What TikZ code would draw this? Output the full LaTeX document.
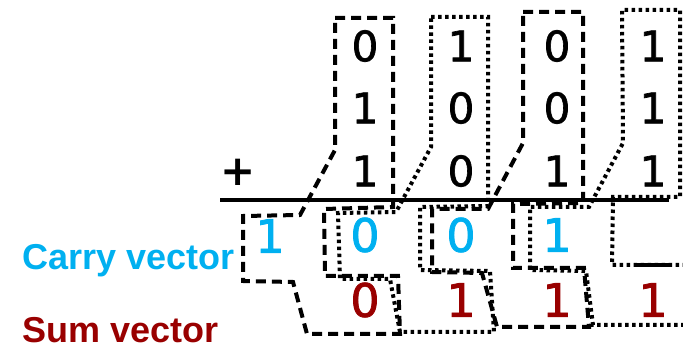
\documentclass[tikz,border=0pt]{standalone}
\usepackage{fontspec}
\setmainfont{Liberation Sans}
\newfontfamily\digitfont{DejaVu Sans}[FakeBold=1.6]
\newfontfamily\plusfont{DejaVu Sans Bold}
\usetikzlibrary{calc}
\definecolor{carryblue}{HTML}{00B0F0}
\definecolor{sumred}{HTML}{990000}
\begin{document}
\begin{tikzpicture}[x=1pt,y=-1pt,
  bit/.style={inner sep=0pt,font=\digitfont\fontsize{42}{42}\selectfont},
  cbit/.style={inner sep=0pt,text=carryblue,font=\digitfont\fontsize{46}{46}\selectfont},
  sbit/.style={inner sep=0pt,text=sumred,font=\digitfont\fontsize{46}{46}\selectfont},
  lbl/.style={inner sep=0pt,anchor=base west,font=\bfseries\fontsize{36}{36}\selectfont},
  dashgroup/.style={line width=4pt,dash pattern=on 10pt off 6pt},
  dotgroup/.style={line width=4pt,dash pattern=on 3.5pt off 3.5pt},
]
\useasboundingbox (0,0) rectangle (683,352);
\clip (0,0) rectangle (683,352);
% input bits
\node[bit] (a1) at (365,46) {0};
\node[bit] (a2) at (461,46) {1};
\node[bit] (a3) at (557,46) {0};
\node[bit] (a4) at (653,46) {1};
\node[bit] (b1) at (365,108) {1};
\node[bit] (b2) at (461,108) {0};
\node[bit] (b3) at (557,108) {0};
\node[bit] (b4) at (653,108) {1};
\node[bit] (c1) at (365,171) {1};
\node[bit] (c2) at (461,171) {0};
\node[bit] (c3) at (557,171) {1};
\node[bit] (c4) at (653,171) {1};
\node[inner sep=0pt,font=\plusfont\fontsize{42}{42}\selectfont] (plus) at (238,172) {+};
% carry and sum
\node[cbit] (k0) at (270,236) {1};
\node[cbit] (k1) at (365,235) {0};
\node[cbit] (k2) at (461,235) {0};
\node[cbit] (k3) at (557,235) {1};
\node[sbit] (s1) at (365,300) {0};
\node[sbit] (s2) at (461,300) {1};
\node[sbit] (s3) at (557,300) {1};
\node[sbit] (s4) at (653,300) {1};
% labels
\node[lbl,text=carryblue] (lc) at (22,270) {Carry vector};
\node[lbl,text=sumred] (ls) at (22,343) {Sum vector};
% groups
\draw[dashgroup] (335,18) -- (393,18) -- (393,207) -- (324,209) -- (325,276) -- (398,276)
  -- (400,334) -- (307,334) -- (293,282) -- (243,281) -- (243,216) -- (300,215) -- (335,150) -- cycle;
\draw[dotgroup] (431,17) -- (488,17) -- (488,206) -- (420,207) -- (420,270) -- (490,271)
  -- (494,332) -- (400,332) -- (390,279) -- (340,279) -- (338,213) -- (396,212) -- (431,147) -- cycle;
\draw[dashgroup] (523,12) -- (583,12) -- (583,203) -- (513,204) -- (513,268) -- (584,268)
  -- (589,327) -- (497,327) -- (482,273) -- (432,272) -- (432,209) -- (488,209) -- (523,143) -- cycle;
\draw[dotgroup] (700,265) -- (612,265) -- (613,197) -- (680,197) -- (680,10) -- (622,10)
  -- (623,143) -- (589,207) -- (530,207) -- (530,270) -- (586,271) -- (593,325) -- (700,325);
\draw[line width=4.5pt] (637,265) -- (670,265);
% sum line
\draw[line width=4.5pt] (220,200) -- (669,200);
\end{tikzpicture}
\end{document}
